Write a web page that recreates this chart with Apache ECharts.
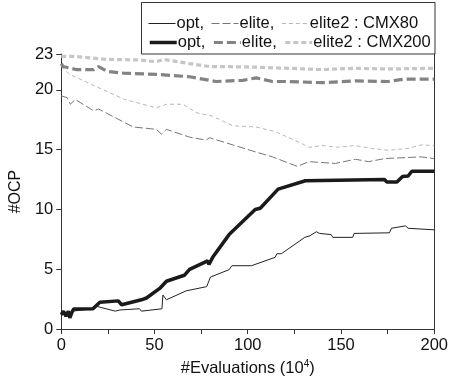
<!DOCTYPE html>
<html>
<head>
<meta charset="utf-8">
<script src="https://cdn.jsdelivr.net/npm/echarts@6/dist/echarts.min.js"></script>
<style>
  html, body { margin: 0; padding: 0; background: #fff; }
  #view1 { width: 451px; height: 382px; }
</style>
</head>
<body>
<div id="view1"></div>
<script>
"use strict";
// [x (10^4 evaluations), #OCP]
var opt80 = [[0,1.2],[1.2,1.5],[2.5,1.07],[3.8,1.5],[4.6,0.93],[6,1.5],[6.7,1.65],[17,1.7],[19,1.9],[29,1.5],[30,1.35],[31.5,1.6],[42,1.7],[43,1.5],[44,1.65],[54,1.7],[54.5,2.85],[56.4,2.45],[67,3.2],[78,3.55],[80,4.35],[90,4.97],[91.5,5.3],[102,5.3],[114.7,6.0],[115.6,6.3],[118,6.3],[130.6,7.67],[133.3,7.8],[136.8,8.14],[138.5,8.0],[144.7,7.9],[145.6,7.67],[156.3,7.67],[157,8.0],[176,8.05],[177,8.43],[184.6,8.63],[186,8.43],[200,8.3]];
var elite80 = [[0,19.5],[3.2,19.35],[4.9,18.8],[7.5,19.2],[17.4,18.25],[20,18.4],[28.7,17.7],[38.5,16.9],[51,16.7],[53.7,16.3],[56.4,16.7],[68.8,16.05],[77.7,15.8],[79.5,16.0],[92,15.4],[104.5,14.8],[113.3,14.4],[126.6,13.6],[132.8,14.0],[147,13.85],[157.7,14.2],[164.8,14.0],[173.6,14.26],[193,14.4],[200,14.26]];
var elite2_80 = [[0,21.95],[4.5,21.3],[16.3,20.45],[34,19.2],[51,18.5],[56.4,18.8],[65.3,18.8],[72.3,18.1],[81.2,17.8],[92,17.0],[104.5,16.9],[115,16.5],[129.2,15.5],[132.8,15.2],[139.8,15.35],[148.7,15.2],[157.6,15.35],[166.4,15.1],[175.3,14.95],[186,15.1],[193,15.4],[200,15.35]];
var opt200 = [[0,1.2],[1.2,1.5],[2.5,1.07],[3.8,1.5],[4.6,0.93],[6,1.5],[6.7,1.68],[17,1.7],[20.7,2.25],[30.6,2.36],[31.5,2.5],[32.4,2.03],[43,2.45],[45.7,2.6],[52.8,3.4],[56.4,4.0],[66,4.5],[68.8,5.0],[78.5,5.7],[79.2,5.4],[81.2,6.0],[90,7.9],[104,10.0],[106.7,10.1],[116.3,11.7],[130.9,12.4],[173.4,12.5],[174.5,12.3],[180,12.3],[183,12.75],[186,12.8],[188,13.2],[200,13.2]];
var elite200 = [[0,22.2],[1,21.95],[8,21.7],[17.4,21.7],[20,21.95],[24.5,21.55],[33.4,21.4],[51,21.3],[68.8,21.1],[83,20.7],[97.3,20.8],[104.5,21.0],[113.3,20.7],[122,20.7],[139.8,20.6],[157.6,20.75],[175.3,20.7],[184,20.9],[200,20.9]];
var elite2_200 = [[0,22.8],[7,22.8],[24.5,22.55],[42,22.5],[51,22.35],[55,22.55],[68.8,22.2],[79.5,21.95],[86.6,21.95],[104.5,21.9],[122,21.8],[139.8,21.7],[157.6,21.8],[175.3,21.75],[200,21.8]];

var xTicks = [0, 50, 100, 150, 200];
var names = { o80: 'opt,', e80: 'elite,', f80: 'elite2 : CMX80', o200: 'opt,', e200: 'elite,', f200: 'elite2 : CMX200' };

function mkLine(id, data, clr, w, dash){
  return { name: id, type: 'line', data: data, symbol: 'none', showSymbol: false, animation: false,
    lineStyle: { color: clr, width: w, type: dash }, itemStyle: { color: clr }, z: 2 };
}

var font = 'Liberation Sans, Arial, sans-serif';
var chart = echarts.init(document.getElementById('view1'), null, { renderer: 'canvas' });
var lgCommon = { left: 148, itemWidth: 27, itemHeight: 10, itemGap: 7, padding: 0,
  itemStyle: { opacity: 0 }, lineStyle: { width: 'inherit' },
  textStyle: { fontFamily: font, fontSize: 16.5, color: '#111', padding: [0, 0, 0, -4] },
  formatter: function(n){ return names[n]; }, selectedMode: false };

var option = {
  animation: false,
  grid: { left: 59, right: 16, top: 54, bottom: 49 },
  graphic: [{ type: 'rect', shape: { x: 141.5, y: 2.5, width: 293.5, height: 51.5 },
    style: { fill: 'none', stroke: '#333', lineWidth: 1 }, z: 10 }],
  legend: [
    Object.assign({ top: 15, data: ['o80', 'e80', 'f80'] }, lgCommon),
    Object.assign({ top: 34, data: ['o200', 'e200', 'f200'] }, lgCommon)
  ],
  xAxis: { type: 'value', min: 0, max: 200, interval: 25,
    name: '#Evaluations (10{sup|4})', nameLocation: 'middle', nameGap: 26,
    nameTextStyle: { fontFamily: font, fontSize: 16.5, color: '#111',
      rich: { sup: { fontSize: 10, verticalAlign: 'top', padding: [0, 0, 9, 0], fontFamily: font, color: '#111' } } },
    axisLine: { lineStyle: { color: '#333', width: 1 } },
    axisTick: { show: true, length: 5, lineStyle: { color: '#333' } },
    axisLabel: { fontFamily: font, fontSize: 16.5, color: '#111', margin: 8,
      formatter: function(v){ return xTicks.indexOf(v) >= 0 ? String(v) : ''; } },
    splitLine: { show: false }
  },
  yAxis: [
    { type: 'value', min: 0, max: 23, interval: 5,
      name: '#OCP', nameLocation: 'middle', nameGap: 28,
      nameTextStyle: { fontFamily: font, fontSize: 16, color: '#111' },
      axisLine: { show: true, lineStyle: { color: '#333', width: 1 } },
      axisTick: { show: true, length: 5, lineStyle: { color: '#333' } },
      axisLabel: { fontFamily: font, fontSize: 16.5, color: '#111', margin: 8, showMaxLabel: true },
      splitLine: { show: false }
    },
    { type: 'value', min: 0, max: 23, position: 'right',
      axisLine: { show: true, lineStyle: { color: '#333', width: 1 } },
      axisTick: { show: false }, axisLabel: { show: false }, splitLine: { show: false }
    }
  ],
  series: [
    mkLine('o80', opt80, '#222', 1, 'solid'),
    mkLine('e80', elite80, '#777', 1, [8, 3]),
    mkLine('f80', elite2_80, '#b8b8b8', 1, [4, 3]),
    mkLine('e200', elite200, '#838383', 3.2, [9, 4]),
    mkLine('f200', elite2_200, '#c6c6c6', 3.2, [5, 3]),
    mkLine('o200', opt200, '#1a1a1a', 3.5, 'solid')
  ]
};
chart.setOption(option);
</script>
</body>
</html>
